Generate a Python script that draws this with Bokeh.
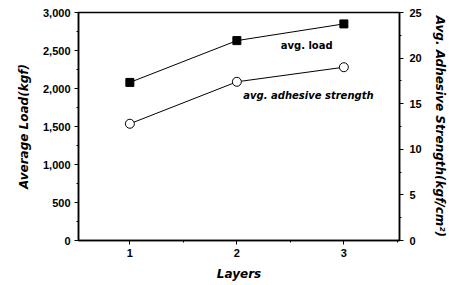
from bokeh.plotting import figure
from bokeh.models import Range1d, LinearAxis, FixedTicker, NumeralTickFormatter, Label
from bokeh.embed import file_html
from bokeh.resources import INLINE

layers = [1, 2, 3]
avg_load = [2080, 2630, 2850]
avg_strength = [12.8, 17.4, 19.0]
x_ticks = [1, 2, 3]
load_ticks = [0, 500, 1000, 1500, 2000, 2500, 3000]
strength_ticks = [0, 5, 10, 15, 20, 25]

FONT = "Liberation Sans"
LFONT = "DejaVu Sans"

p = figure(width=449, height=285, output_backend="svg", toolbar_location=None,
           x_range=Range1d(0.52, 3.52), y_range=Range1d(0, 3000),
           min_border_left=78, min_border_right=46, min_border_top=12, min_border_bottom=45)
p.extra_y_ranges = {"s": Range1d(0, 25)}
p.grid.visible = False
p.outline_line_color = "black"
p.outline_line_width = 1.5
p.background_fill_color = "white"
p.border_fill_color = "white"

def style(ax):
    ax.axis_line_color = "black"
    ax.axis_line_width = 1.5
    ax.major_tick_out = 4
    ax.major_tick_in = 0
    ax.minor_tick_out = 2
    ax.minor_tick_in = 0
    ax.major_label_text_font = FONT
    ax.major_label_text_font_style = "bold"
    ax.major_label_text_font_size = "11px"
    ax.major_label_text_color = "black"
    ax.axis_label_text_font = LFONT
    ax.axis_label_text_font_style = "bold italic"
    ax.axis_label_text_font_size = "12px"
    ax.axis_label_text_color = "black"

xa = p.xaxis[0]
xa.ticker = FixedTicker(ticks=x_ticks, minor_ticks=[0.5, 1.5, 2.5, 3.5])
xa.axis_label = "Layers"
style(xa)
xa.major_label_standoff = 4
xa.axis_label_standoff = 7

ya = p.yaxis[0]
ya.ticker = FixedTicker(ticks=load_ticks, minor_ticks=list(range(0, 3001, 250)))
ya.formatter = NumeralTickFormatter(format="0,0")
ya.axis_label = "Average Load(kgf)"
style(ya)
ya.major_label_standoff = 4
ya.axis_label_standoff = 9

ra = LinearAxis(y_range_name="s", axis_label="Avg. Adhesive Strength(kgf/cm\u00b2)")
ra.ticker = FixedTicker(ticks=strength_ticks, minor_ticks=[i * 2.5 for i in range(11)])
style(ra)
ra.major_label_standoff = 6
ra.axis_label_standoff = 8
p.add_layout(ra, "right")

p.line(layers, avg_load, line_color="black", line_width=1)
p.scatter(layers, avg_load, marker="square", size=8, fill_color="black", line_color="black")
p.line(layers, avg_strength, y_range_name="s", line_color="black", line_width=1)
p.scatter(layers, avg_strength, y_range_name="s", marker="circle", size=9,
          fill_color="white", line_color="black", line_width=1)

p.add_layout(Label(x=2.41, y=2500, text="avg. load", text_font=LFONT,
                   text_font_style="bold", text_font_size="10px", text_color="black"))
p.add_layout(Label(x=2.06, y=1840, text="avg. adhesive strength", text_font=LFONT,
                   text_font_style="bold italic", text_font_size="10px", text_color="black"))

open("out.html", "w").write(file_html(p, INLINE))
